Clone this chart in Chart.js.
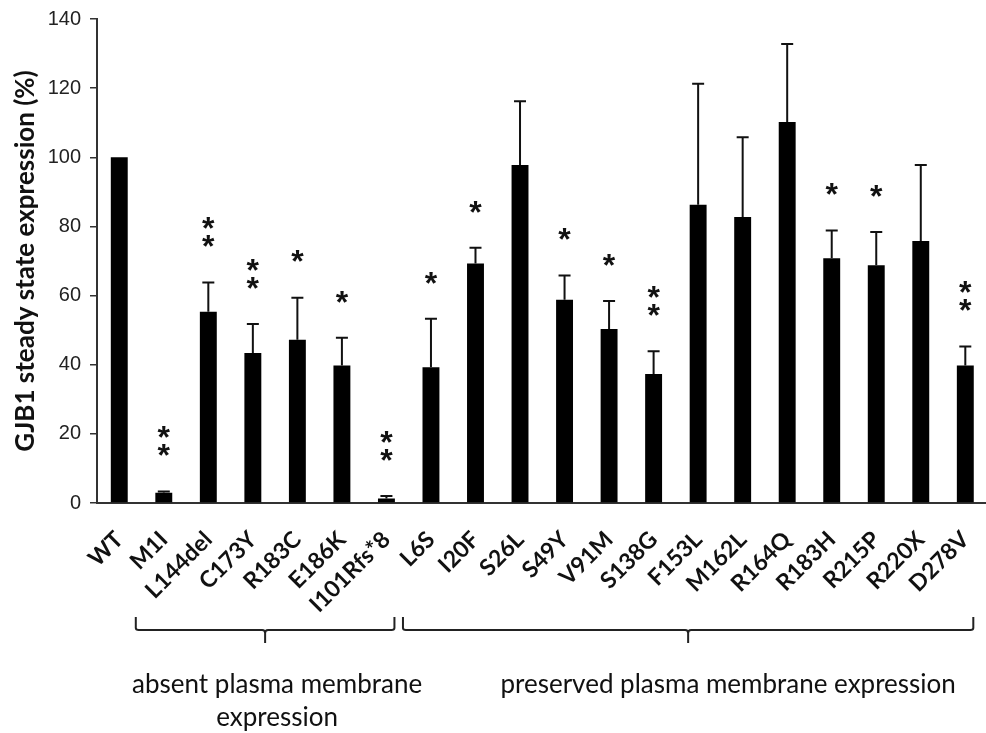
<!DOCTYPE html>
<html>
<head>
<meta charset="utf-8">
<script src="https://cdn.jsdelivr.net/npm/chart.js@4.4.1/dist/chart.umd.min.js"></script>
<style>
    body { margin: 0; background: #fff; overflow: hidden; }
</style>
</head>
<body>
<canvas id="gjbChart" width="1000" height="733"></canvas>
<script>
// ---------- DATA ----------
const mutants = ["WT", "M1I", "L144del", "C173Y", "R183C", "E186K", "I101Rfs*8",
    "L6S", "I20F", "S26L", "S49Y", "V91M", "S138G", "F153L", "M162L", "R164Q",
    "R183H", "R215P", "R220X", "D278V"];
const expression = [100, 3.0, 55.3, 43.4, 47.2, 39.8, 1.3,
    39.3, 69.3, 97.8, 58.8, 50.3, 37.3, 86.3, 82.7, 110.2,
    70.8, 68.8, 75.8, 39.8];
const errorSD = [0, 0.3, 8.5, 8.4, 12.2, 8.0, 0.7,
    14.0, 4.5, 18.4, 7.0, 8.1, 6.6, 35.0, 23.1, 22.6,
    8.0, 9.6, 22.0, 5.5];
const stars = [0, 2, 2, 2, 1, 1, 2,
    1, 1, 0, 1, 1, 2, 0, 0, 0,
    1, 1, 0, 2];
const yTicks = [0, 20, 40, 60, 80, 100, 120, 140];

// groups of mutants under the braces (first index, last index, label lines)
const groups = [
    { from: 1, to: 6, lines: ["absent plasma membrane", "expression"] },
    { from: 7, to: 19, lines: ["preserved plasma membrane expression"] }
];
// the group captions are not quite centred on their braces
const captionShift = [12, 40];

// ---------- PLUGIN: error bars, stars, braces ----------
const annotations = {
    id: "annotations",
    afterDatasetsDraw(chart) {
        const ctx = chart.ctx;
        const x = chart.scales.x;
        const y = chart.scales.y;
        ctx.save();
        ctx.strokeStyle = "#111";
        ctx.fillStyle = "#111";
        ctx.lineWidth = 2;

        expression.forEach((v, i) => {
            const cx = x.getPixelForValue(i);
            const top = y.getPixelForValue(v + errorSD[i]);
            if (errorSD[i] > 0) {
                ctx.beginPath();
                ctx.moveTo(cx, y.getPixelForValue(v));
                ctx.lineTo(cx, top);
                ctx.moveTo(cx - 6, top);
                ctx.lineTo(cx + 6, top);
                ctx.stroke();
            }
            // significance stars
            ctx.font = "bold 32px 'Liberation Sans'";
            ctx.textAlign = "center";
            ctx.textBaseline = "middle";
            for (let s = 0; s < stars[i]; s++) {
                ctx.fillText("*", cx, top - 34 - s * 18);
            }
        });
        ctx.restore();
    },
    afterDraw(chart) {
        const ctx = chart.ctx;
        const x = chart.scales.x;
        ctx.save();
        ctx.strokeStyle = "#222";
        ctx.lineWidth = 2;
        ctx.fillStyle = "#111";
        groups.forEach((g, gi) => {
            const left = x.getPixelForValue(g.from) - 28;
            const right = x.getPixelForValue(g.to) + 8;
            const mid = (left + right) / 2;
            ctx.beginPath();
            ctx.moveTo(left, 617);
            ctx.lineTo(left, 628);
            ctx.quadraticCurveTo(left, 630, left + 3, 630);
            ctx.lineTo(mid - 3, 630);
            ctx.quadraticCurveTo(mid, 630, mid, 633);
            ctx.lineTo(mid, 643);
            ctx.moveTo(mid, 633);
            ctx.quadraticCurveTo(mid, 630, mid + 3, 630);
            ctx.lineTo(right - 3, 630);
            ctx.quadraticCurveTo(right, 630, right, 628);
            ctx.lineTo(right, 617);
            ctx.stroke();

            ctx.font = "26px Lato";
            ctx.textAlign = "center";
            ctx.textBaseline = "middle";
            g.lines.forEach((line, k) => {
                ctx.fillText(line, mid + captionShift[gi], 685 + k * 33);
            });
        });
        ctx.restore();
    }
};

// ---------- CHART ----------
const ctx = document.getElementById("gjbChart").getContext("2d");
new Chart(ctx, {
    type: "bar",
    data: {
        labels: mutants,
        datasets: [{
            data: expression,
            backgroundColor: "#000",
            barPercentage: 0.38,
            categoryPercentage: 1
        }]
    },
    options: {
        responsive: false,
        animation: false,
        layout: { padding: { top: 4, right: 7, left: 0, bottom: 0 } },
        plugins: {
            legend: { display: false },
            tooltip: { enabled: false }
        },
        scales: {
            x: {
                grid: { display: false },
                border: { color: "#333", width: 2 },
                ticks: {
                    color: "#111",
                    font: { family: "Lato", weight: "bold", size: 23 },
                    minRotation: 45,
                    maxRotation: 45,
                    padding: 15,
                    autoSkip: false
                },
                afterFit(scale) { scale.height = 230; }
            },
            y: {
                min: 0,
                max: 140,
                afterBuildTicks(scale) { scale.ticks = yTicks.map(v => ({ value: v })); },
                grid: { drawOnChartArea: false, tickLength: 7, color: "#333", lineWidth: 1.5 },
                border: { color: "#333", width: 2 },
                ticks: {
                    color: "#222",
                    font: { family: "Liberation Sans", size: 20, lineHeight: 1 },
                    padding: 9
                },
                title: {
                    display: true,
                    text: "GJB1 steady state expression (%)",
                    color: "#111",
                    font: { family: "Lato", weight: "bold", size: 26 },
                    padding: { top: 10, bottom: 0 }
                },
                afterFit(scale) { scale.width = 97; }
            }
        }
    },
    plugins: [annotations]
});
</script>
</body>
</html>
